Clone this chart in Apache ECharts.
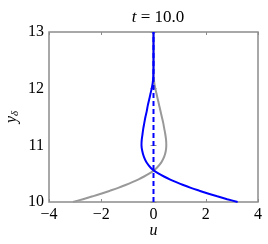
<!DOCTYPE html>
<html><head><meta charset="utf-8">
<script src="https://cdn.jsdelivr.net/npm/echarts@6/dist/echarts.min.js"></script>
<style>html,body{margin:0;padding:0;background:#fff}#c{width:268px;height:244px}</style>
</head><body><div id="c"></div>
<script>
const yVals = [10.0,10.05,10.1,10.15,10.2,10.25,10.3,10.35,10.4,10.45,10.5,10.55,10.6,10.7,10.8,10.9,11.0,11.1,11.2,11.3,11.4,11.5,11.6,11.7,11.8,11.9,12.0,12.1,12.2,12.4,12.6,12.8,13.0];
const blueU = [3.22,2.82,2.44,2.08,1.75,1.43,1.14,0.87,0.62,0.4,0.2,0.03,-0.1,-0.27,-0.37,-0.43,-0.46,-0.45,-0.42,-0.39,-0.35,-0.31,-0.26,-0.22,-0.17,-0.12,-0.07,-0.03,-0.01,0,0,0,0];
const grayU = [-3.08,-2.7,-2.33,-1.98,-1.66,-1.35,-1.07,-0.81,-0.57,-0.36,-0.17,-0.01,0.12,0.3,0.41,0.47,0.49,0.48,0.45,0.41,0.37,0.32,0.27,0.22,0.17,0.12,0.07,0.03,0.01,0,0,0,0];
const dashU = [0,0];
const dashY = [10,13];
const xTicks = [-4,-2,0,2,4];
const yTicks = [10,11,12,13];

const font = 'Liberation Serif';
const pair = (us, ys) => us.map((u,i)=>[u, ys[i]]);
const chart = echarts.init(document.getElementById('c'));
const axisCol = '#8c8c8c';
const fmtMinus = v => (v<0 ? '\u2212' + Math.abs(v) : String(v));
chart.setOption({
  animation:false,
  title:{text:'{i|t} = 10.0', left:153, top:4, textAlign:'center',
    textStyle:{fontFamily:font,fontSize:17,fontWeight:'normal',color:'#000',
      rich:{i:{fontFamily:font,fontSize:17,fontStyle:'italic',color:'#000'}}}},
  grid:{left:49,right:10,top:32,bottom:42,containLabel:false,outerBoundsMode:'none',
        show:true,borderColor:axisCol,borderWidth:1.5},
  xAxis:[{type:'value',min:-4,max:4,interval:2,position:'bottom',
    axisLine:{show:false},splitLine:{show:false},
    axisTick:{inside:true,length:3,lineStyle:{color:axisCol}},
    axisLabel:{fontFamily:font,fontSize:16,color:'#000',margin:5,formatter:fmtMinus},
    name:'u',nameLocation:'middle',nameGap:21,nameMoveOverlap:false,
    nameTextStyle:{fontFamily:font,fontSize:16,fontStyle:'italic',color:'#000'}},
   {type:'value',min:-4,max:4,interval:2,position:'top',
    axisLine:{show:false},splitLine:{show:false},axisLabel:{show:false},
    axisTick:{inside:true,length:3,lineStyle:{color:axisCol}}}],
  yAxis:[{type:'value',min:10,max:13,interval:1,position:'left',
    axisLine:{show:false},splitLine:{show:false},
    axisTick:{inside:true,length:3,lineStyle:{color:axisCol}},
    axisLabel:{fontFamily:font,fontSize:16,color:'#000',margin:5},
    name:'{i|y}{s|δ}',nameLocation:'middle',nameRotate:90,nameGap:28,nameMoveOverlap:false,
    nameTextStyle:{fontFamily:font,color:'#000',
      rich:{i:{fontFamily:font,fontSize:16,fontStyle:'italic',color:'#000'},
            s:{fontFamily:font,fontSize:11,fontStyle:'italic',color:'#000',padding:[7,0,0,0]}}}},
   {type:'value',min:10,max:13,interval:1,position:'right',
    axisLine:{show:false},splitLine:{show:false},axisLabel:{show:false},
    axisTick:{inside:true,length:3,lineStyle:{color:axisCol}}}],
  series:[
    {type:'line',data:pair(grayU,yVals),smooth:0.3,showSymbol:false,
     lineStyle:{color:'#999999',width:2},z:2},
    {type:'line',data:pair(blueU,yVals),smooth:0.3,showSymbol:false,
     lineStyle:{color:'#0000ff',width:2},z:3},
    {type:'line',data:pair(dashU,dashY),showSymbol:false,
     lineStyle:{color:'#0000ff',width:2,type:[5,3]},z:4}
  ]
});
</script></body></html>
